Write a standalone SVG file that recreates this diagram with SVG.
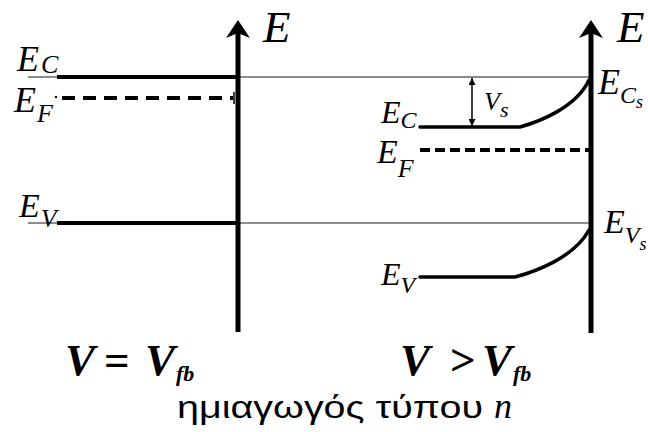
<svg xmlns="http://www.w3.org/2000/svg" width="648" height="432" viewBox="0 0 648 432">
<defs>
<style>
.gray{stroke:#8c8c8c;stroke-width:2;fill:none}
.band{stroke:#000;stroke-width:4;fill:none}
.bend{stroke:#000;stroke-width:3.5;fill:none;stroke-linecap:round}
.dash{stroke:#000;stroke-width:4;fill:none}
.axis{stroke:#000;stroke-width:5;fill:none}
.head{fill:#000}
.lbl{font-family:"Liberation Serif","Times New Roman",serif;font-style:italic;fill:#000}
.bold{font-family:"Liberation Serif","Times New Roman",serif;font-style:italic;font-weight:bold;fill:#000}
.greek{font-family:"Liberation Sans",Arial,sans-serif;fill:#000}
</style>
<marker id="ah" viewBox="0 0 10 10" refX="10" refY="5" markerWidth="9" markerHeight="7" markerUnits="userSpaceOnUse" orient="auto-start-reverse">
<path d="M0,0 L10,5 L0,10 Z" fill="#000"/>
</marker>
</defs>
<rect width="648" height="432" fill="#fff"/>

<g id="reference-levels">
<path class="gray" d="M28,77 H590"/>
<path class="gray" d="M28,223 H590"/>
</g>

<g id="flatband-panel">
<path class="band" d="M57,77 H238"/>
<path class="dash" d="M62,98 H233" stroke-dasharray="13 8"/>
<circle cx="56" cy="97" r="1.2" fill="#000"/>
<path d="M234,92 V104" stroke="#000" stroke-width="1.5"/>
<path class="band" d="M57,223 H238"/>
<path class="axis" d="M238,32 V332"/>
<polygon class="head" points="238,20 250,38 238,33 226,38"/>
</g>

<g id="depletion-panel">
<path class="bend" d="M420,127 H520 C538,122 576,108 589,80"/>
<path class="dash" d="M420,150 H589" stroke-dasharray="10 5"/>
<path class="bend" d="M420,277 H515 C534,272 574,258 589,230"/>
<path class="axis" d="M591,32 V333"/>
<polygon class="head" points="591,20 603,38 591,33 579,38"/>
</g>

<g id="connectors">
<path d="M472,78 V126" stroke="#000" stroke-width="1.5" marker-start="url(#ah)" marker-end="url(#ah)"/>
</g>

<g id="labels">
<text class="lbl" x="263" y="42" font-size="45">E</text>
<text class="lbl" x="617" y="42" font-size="45">E</text>

<text class="lbl" x="17" y="71" font-size="36">E<tspan font-size="26" dx="2" dy="2">C</tspan></text>
<text class="lbl" x="14" y="112" font-size="36">E<tspan font-size="26" dx="1" dy="10">F</tspan></text>
<text class="lbl" x="19" y="217" font-size="34">E<tspan font-size="26" dx="1" dy="10">V</tspan></text>

<text class="lbl" x="381" y="123" font-size="32">E<tspan font-size="24" dy="5">C</tspan></text>
<text class="lbl" x="377" y="163" font-size="34">E<tspan font-size="26" dy="14">F</tspan></text>
<text class="lbl" x="381" y="285" font-size="32">E<tspan font-size="24" dy="8">V</tspan></text>

<text class="lbl" x="598" y="94" font-size="36">E<tspan font-size="24" dy="9">C</tspan><tspan font-size="18" dy="5">s</tspan></text>
<text class="lbl" x="604" y="233" font-size="34">E<tspan font-size="24" dy="10">V</tspan><tspan font-size="18" dy="7">s</tspan></text>

<text class="lbl" x="484" y="110" font-size="26">V<tspan font-size="22" dy="7">s</tspan></text>

<text class="bold" y="375" font-size="45"><tspan x="65">V</tspan><tspan x="104" font-style="normal">=</tspan><tspan x="145">V</tspan></text>
<text class="bold" x="176" y="381" font-size="22">fb</text>
<text class="bold" y="375" font-size="45"><tspan x="400">V</tspan><tspan x="450" font-style="normal">&gt;</tspan><tspan x="482">V</tspan></text>
<text class="bold" x="513" y="381" font-size="22">fb</text>

<text class="greek" x="177" y="418" font-size="31" textLength="306" lengthAdjust="spacingAndGlyphs">ημιαγωγός τύπου</text>
<text class="lbl" x="494" y="418" font-size="36">n</text>
</g>
</svg>
